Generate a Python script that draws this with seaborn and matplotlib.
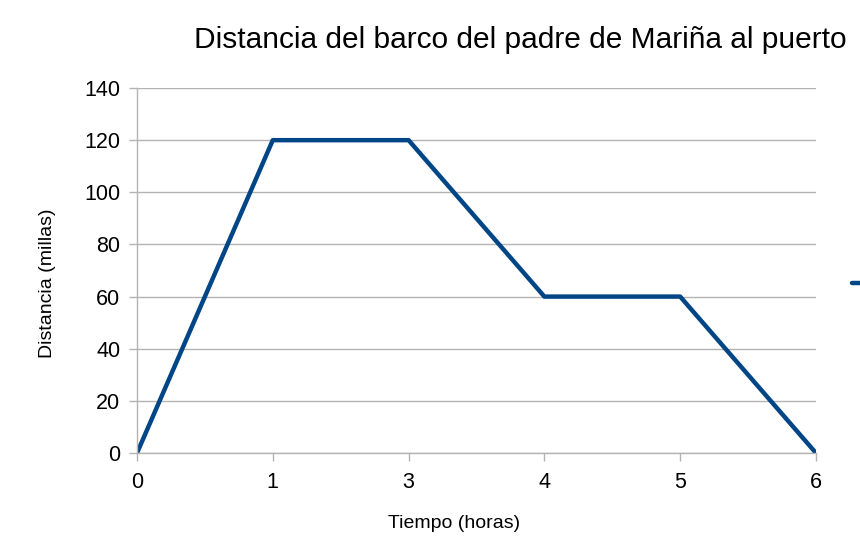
import pandas as pd
import seaborn as sns
import matplotlib.pyplot as plt
from matplotlib.lines import Line2D

# Data
horas = ['0', '1', '3', '4', '5', '6']
distancia = [0, 120, 120, 60, 60, 0]

df = pd.DataFrame({'Tiempo (horas)': horas, 'Distancia (millas)': distancia})

sns.set_style('white')
plt.rcParams['font.family'] = ['Liberation Sans', 'DejaVu Sans']
plt.rcParams['text.color'] = 'black'
plt.rcParams['axes.labelcolor'] = 'black'
plt.rcParams['xtick.labelcolor'] = 'black'
plt.rcParams['ytick.labelcolor'] = 'black'

fig = plt.figure(figsize=(8.6, 5.43), dpi=100)
ax = fig.add_axes([0.1593, 0.1657, 0.7895, 0.6722])

line_color = '#004586'
sns.lineplot(data=df, x='Tiempo (horas)', y='Distancia (millas)', sort=False,
             color=line_color, linewidth=3.2, ax=ax)

ax.set_xlim(0, len(horas) - 1)
ax.set_ylim(0, 140)
ax.set_yticks(range(0, 141, 20))
ax.yaxis.grid(True, color='#b3b3b3', linewidth=1)
ax.xaxis.grid(False)
ax.set_axisbelow(True)

for side in ['top', 'right']:
    ax.spines[side].set_visible(False)
for side in ['left', 'bottom']:
    ax.spines[side].set_color('#b3b3b3')
    ax.spines[side].set_linewidth(1)

ax.tick_params(axis='both', which='major', length=6, width=1, color='#b3b3b3',
               labelsize=15.5, direction='out')
ax.tick_params(axis='y', left=True, pad=6)
ax.tick_params(axis='x', bottom=True, pad=8)

ax.set_xlabel('Tiempo (horas)', fontsize=14)
ax.set_ylabel('Distancia (millas)', fontsize=14)
ax.xaxis.set_label_coords(0.467, -0.192)
ax.yaxis.set_label_coords(-0.132, 0.466)
ax.xaxis.label.set_va('center')
ax.yaxis.label.set_va('center')

fig.text(0.605, 0.926, 'Distancia del barco del padre de Mariña al puerto',
         fontsize=21.5, ha='center', va='center')

# legend key at the right edge (cut off in the original)
handle = Line2D([0], [0], color=line_color, linewidth=3.2)
fig.legend([handle], [''], loc='center left', bbox_to_anchor=(0.991, 0.477),
           frameon=False, fontsize=12, handlelength=1.5, borderpad=0, borderaxespad=0)

fig.savefig('out.png', dpi=100)
